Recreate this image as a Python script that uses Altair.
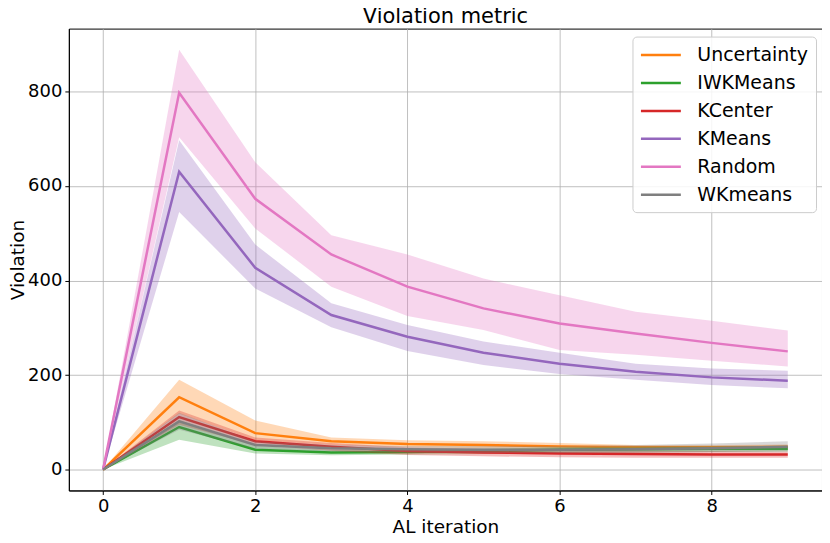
import altair as alt
import pandas as pd

iters = list(range(10))
methods = ["Uncertainty", "IWKMeans", "KCenter", "KMeans", "Random", "WKmeans"]
colors = ["#ff7f0e", "#2ca02c", "#d62728", "#9467bd", "#e377c2", "#7f7f7f"]

unc_mean = [0, 153, 77, 60, 54, 52, 49, 47, 47, 48]
unc_lo = [0, 118, 62, 52, 47, 45, 42, 41, 41, 41]
unc_hi = [0, 190, 104, 68, 62, 60, 56, 52, 52, 53]

iwk_mean = [0, 90, 42, 36, 37, 39, 42, 43, 44, 44]
iwk_lo = [0, 63, 34, 30, 32, 33, 35, 36, 37, 38]
iwk_hi = [0, 105, 50, 42, 42, 44, 47, 48, 49, 50]

kc_mean = [0, 111, 60, 48, 39, 36, 34, 33, 32, 32]
kc_lo = [0, 95, 52, 40, 31, 28, 26, 25, 25, 25]
kc_hi = [0, 125, 68, 56, 47, 44, 42, 40, 39, 38]

km_mean = [0, 630, 427, 327, 281, 247, 224, 207, 195, 188]
km_lo = [0, 545, 383, 301, 251, 221, 202, 190, 179, 172]
km_hi = [0, 697, 476, 352, 306, 271, 247, 224, 214, 209]

rnd_mean = [0, 797, 573, 455, 387, 341, 309, 288, 268, 250]
rnd_lo = [0, 703, 510, 387, 325, 295, 253, 243, 230, 218]
rnd_hi = [0, 888, 650, 496, 455, 404, 369, 334, 315, 294]

wk_mean = [0, 102, 52, 45, 43, 42, 42, 43, 45, 48]
wk_lo = [0, 84, 44, 38, 36, 35, 35, 36, 37, 38]
wk_hi = [0, 120, 60, 52, 50, 50, 50, 52, 55, 60]

series = {
    "Uncertainty": (unc_mean, unc_lo, unc_hi),
    "IWKMeans": (iwk_mean, iwk_lo, iwk_hi),
    "KCenter": (kc_mean, kc_lo, kc_hi),
    "KMeans": (km_mean, km_lo, km_hi),
    "Random": (rnd_mean, rnd_lo, rnd_hi),
    "WKmeans": (wk_mean, wk_lo, wk_hi),
}

rows = []
for m in methods:
    mean, lo, hi = series[m]
    for i, it in enumerate(iters):
        rows.append({"iter": it, "method": m, "mean": mean[i], "lo": lo[i], "hi": hi[i]})
df = pd.DataFrame(rows)

xscale = alt.Scale(domain=[-0.45, 9.45], nice=False, zero=False)
yscale = alt.Scale(domain=[-44.3, 933], nice=False, zero=False)
cscale = alt.Scale(domain=methods, range=colors)
legend = alt.Legend(title=None, orient="none", legendX=565, legendY=8)

xenc = alt.X("iter:Q", scale=xscale,
             axis=alt.Axis(title="AL iteration", values=[0, 2, 4, 6, 8], format="d"))
base = alt.Chart(df)
layers = []
for idx, m in enumerate(methods):
    flt = alt.datum.method == m
    area = base.transform_filter(flt).mark_area(opacity=0.3, color=colors[idx]).encode(
        x=xenc,
        y=alt.Y("lo:Q", scale=yscale),
        y2="hi:Q",
    )
    line = base.transform_filter(flt).mark_line(strokeWidth=2.5).encode(
        x=xenc,
        y=alt.Y("mean:Q", scale=yscale,
                axis=alt.Axis(title="Violation", values=[0, 200, 400, 600, 800], format="d")),
        color=alt.Color("method:N", scale=cscale, sort=methods, legend=legend),
    )
    layers += [area, line]

chart = alt.layer(*layers).properties(
    width=755,
    height=463,
    title=alt.TitleParams("Violation metric", fontSize=21, font="DejaVu Sans",
                          fontWeight="normal", offset=2, anchor="middle", color="black"),
    autosize=alt.AutoSizeParams(type="none"),
    padding={"left": 61, "top": 20, "right": 0, "bottom": 50},
).configure_view(
    stroke="black", strokeWidth=1
).configure_axis(
    labelFont="DejaVu Sans", titleFont="DejaVu Sans",
    labelFontSize=18, titleFontSize=18.5, titleFontWeight="normal",
    labelColor="black", titleColor="black",
    domainColor="black", tickColor="black", tickSize=4, labelPadding=3,
    gridColor="#b0b0b0", gridWidth=0.8,
).configure_axisX(
    titlePadding=2
).configure_axisY(
    titlePadding=0
).configure_legend(
    labelFont="DejaVu Sans", labelFontSize=19, labelColor="black",
    symbolType="M-1,0L3,0", symbolSize=400, symbolStrokeWidth=2.5, symbolOpacity=1,
    rowPadding=6, labelOffset=35, padding=7,
    fillColor="rgba(255,255,255,0.85)", strokeColor="#cccccc", cornerRadius=4,
)

chart.save("out.html", embed_options={"renderer": "svg", "actions": False})
